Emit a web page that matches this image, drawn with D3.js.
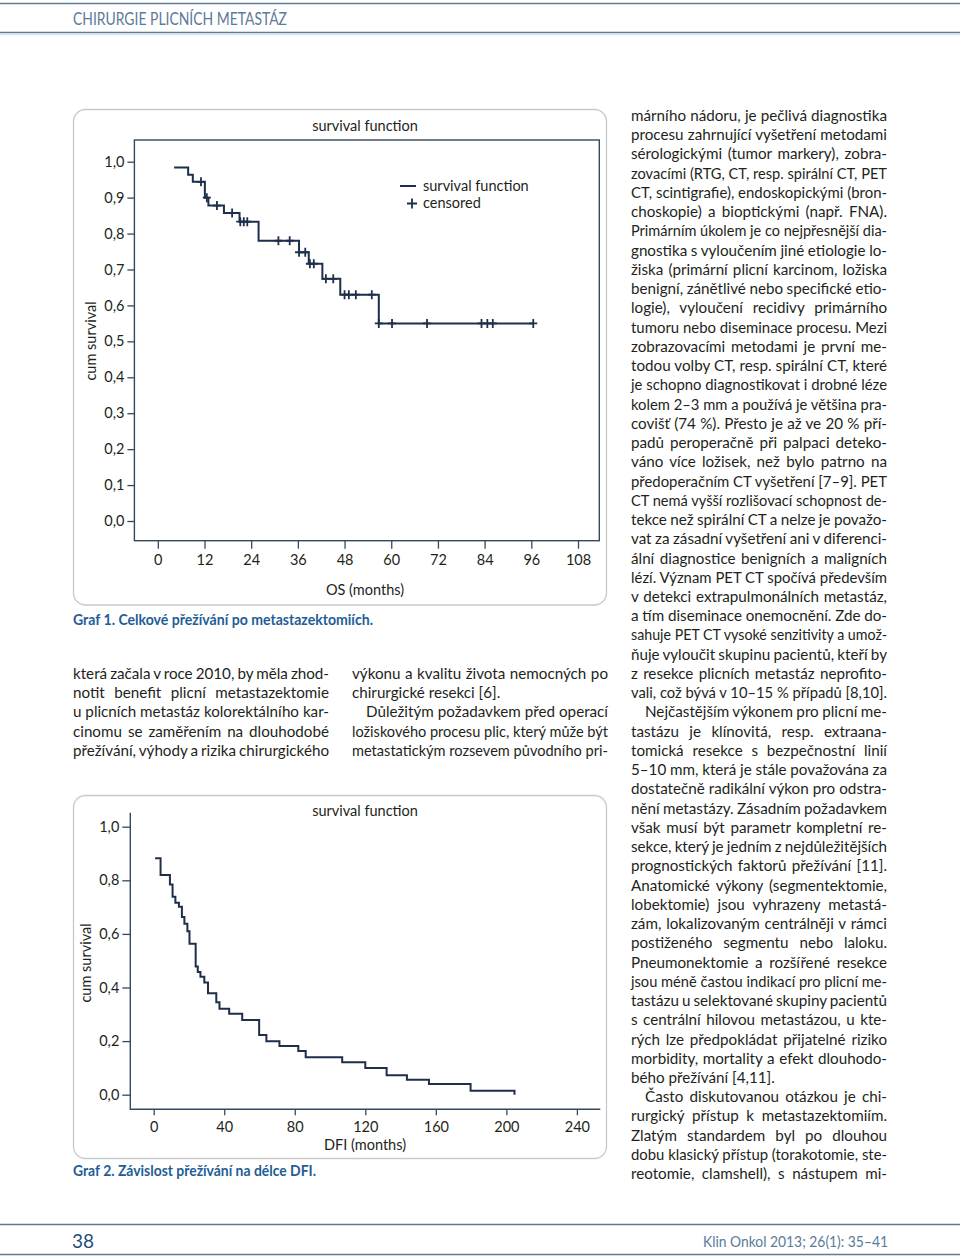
<!DOCTYPE html>
<html><head><meta charset="utf-8">
<script src="https://cdn.jsdelivr.net/npm/d3@7"></script>
<style>
html,body{margin:0;padding:0;background:#fff;}
svg{display:block;}
</style></head>
<body>
<script>
// ---------- DATA ----------
// Graf 1: overall survival (OS, months)
const osStart = [4.2, 0.984];
const osTimes = [7.8, 9.0, 12.1, 13.0, 17.0, 21.0, 25.9, 36.3, 38.8, 42.3, 46.9, 56.8];
const osSurv  = [0.964, 0.944, 0.900, 0.878, 0.857, 0.833, 0.780, 0.748, 0.716, 0.674, 0.630, 0.550];
const osCensored = [11.1, 12.6, 15.2, 19.1, 21.2, 22.1, 23.0, 31.0, 33.9, 36.3, 37.9, 39.1, 40.1,
                    43.2, 45.1, 48.0, 49.1, 50.9, 55.0, 56.8, 60.2, 69.2, 83.2, 84.7, 86.1, 96.5];
const osXTicks = [0, 12, 24, 36, 48, 60, 72, 84, 96, 108];
const osYTicks = [0, 0.1, 0.2, 0.3, 0.4, 0.5, 0.6, 0.7, 0.8, 0.9, 1.0];

// Graf 2: survival by DFI (months)
const dfiStart = [0.8, 0.882];
const dfiTimes = [3.9, 9.2, 10.7, 12.3, 14.3, 16.0, 17.4, 19.1, 20.3, 23.8, 25.0, 26.5, 28.7, 30.8, 35.5,
                  37.3, 42.8, 50.2, 59.8, 63.9, 71.3, 82.0, 86.2, 106.9, 120.0, 132.1, 143.6, 156.1, 179.7, 204.6];
const dfiSurv  = [0.820, 0.784, 0.739, 0.716, 0.701, 0.663, 0.638, 0.610, 0.563, 0.478, 0.458, 0.440, 0.419, 0.379, 0.345,
                  0.321, 0.302, 0.279, 0.223, 0.199, 0.182, 0.163, 0.140, 0.121, 0.100, 0.073, 0.056, 0.040, 0.015, 0.0];
const dfiXTicks = [0, 40, 80, 120, 160, 200, 240];
const dfiYTicks = [0, 0.2, 0.4, 0.6, 0.8, 1.0];

// Page text ("~" = indented first line, "|" = last line of paragraph, not justified)
const headerText = "CHIRURGIE PLICNÍCH METASTÁZ";
const footerPage = "38";
const footerRef = "Klin Onkol 2013; 26(1): 35–41";
const caption1 = "Graf 1. Celkové přežívání po metastazektomiích.";
const caption2 = "Graf 2. Závislost přežívání na délce DFI.";
const leftLines = [
  "která začala v roce 2010, by měla zhod-",
  "notit benefit plicní metastazektomie",
  "u plicních metastáz kolorektálního kar-",
  "cinomu se zaměřením na dlouhodobé",
  "přežívání, výhody a rizika chirurgického"
];
const midLines = [
  "výkonu a kvalitu života nemocných po",
  "chirurgické resekci [6].|",
  "~Důležitým požadavkem před operací",
  "ložiskového procesu plic, který může být",
  "metastatickým rozsevem původního pri-"
];
const rightLines = [
  "márního nádoru, je pečlivá diagnostika",
  "procesu zahrnující vyšetření metodami",
  "sérologickými (tumor markery), zobra-",
  "zovacími (RTG, CT, resp. spirální CT, PET",
  "CT, scintigrafie), endoskopickými (bron-",
  "choskopie) a bioptickými (např. FNA).",
  "Primárním úkolem je co nejpřesnější dia-",
  "gnostika s vyloučením jiné etiologie lo-",
  "žiska (primární plicní karcinom, ložiska",
  "benigní, zánětlivé nebo specifické etio-",
  "logie), vyloučení recidivy primárního",
  "tumoru nebo diseminace procesu. Mezi",
  "zobrazovacími metodami je první me-",
  "todou volby CT, resp. spirální CT, které",
  "je schopno diagnostikovat i drobné léze",
  "kolem 2–3 mm a používá je většina pra-",
  "covišť (74 %). Přesto je až ve 20 % pří-",
  "padů peroperačně při palpaci deteko-",
  "váno více ložisek, než bylo patrno na",
  "předoperačním CT vyšetření [7–9]. PET",
  "CT nemá vyšší rozlišovací schopnost de-",
  "tekce než spirální CT a nelze je považo-",
  "vat za zásadní vyšetření ani v diferenci-",
  "ální diagnostice benigních a maligních",
  "lézí. Význam PET CT spočívá především",
  "v detekci extrapulmonálních metastáz,",
  "a tím diseminace onemocnění. Zde do-",
  "sahuje PET CT vysoké senzitivity a umož-",
  "ňuje vyloučit skupinu pacientů, kteří by",
  "z resekce plicních metastáz neprofito-",
  "vali, což bývá v 10–15 % případů [8,10].",
  "~Nejčastějším výkonem pro plicní me-",
  "tastázu je klínovitá, resp. extraana-",
  "tomická resekce s bezpečnostní linií",
  "5–10 mm, která je stále považována za",
  "dostatečně radikální výkon pro odstra-",
  "nění metastázy. Zásadním požadavkem",
  "však musí být parametr kompletní re-",
  "sekce, který je jedním z nejdůležitějších",
  "prognostických faktorů přežívání [11].",
  "Anatomické výkony (segmentektomie,",
  "lobektomie) jsou vyhrazeny metastá-",
  "zám, lokalizovaným centrálněji v rámci",
  "postiženého segmentu nebo laloku.",
  "Pneumonektomie a rozšířené resekce",
  "jsou méně častou indikací pro plicní me-",
  "tastázu u selektované skupiny pacientů",
  "s centrální hilovou metastázou, u kte-",
  "rých lze předpokládat přijatelné riziko",
  "morbidity, mortality a efekt dlouhodo-",
  "bého přežívání [4,11].|",
  "~Často diskutovanou otázkou je chi-",
  "rurgický přístup k metastazektomiím.",
  "Zlatým standardem byl po dlouhou",
  "dobu klasický přístup (torakotomie, ste-",
  "reotomie, clamshell), s nástupem mi-"
];

// ---------- STYLE ----------
const W = 960, H = 1257;
const FONT = "Lato, 'Open Sans', 'Noto Sans', sans-serif";
const INK = "#231f20";
const CURVE = "#1d2f4b";
const FRAME = "#34495f";
const BLUE = "#1f5d96";
const STEEL = "#5b7b98";

const svg = d3.select("body").append("svg").attr("width", W).attr("height", H)
  .style("font-family", FONT);

// header & footer
svg.append("line").attr("x1",0).attr("x2",W).attr("y1",3.5).attr("y2",3.5).attr("stroke",STEEL).attr("stroke-width",1.6);
svg.append("line").attr("x1",0).attr("x2",W).attr("y1",32.5).attr("y2",32.5).attr("stroke",STEEL).attr("stroke-width",1.6);
svg.append("line").attr("x1",0).attr("x2",W).attr("y1",34.5).attr("y2",34.5).attr("stroke","#d6e3ee").attr("stroke-width",1.5);
svg.append("text").attr("x",73).attr("y",25).attr("fill",STEEL).style("font-size","16.5px").style("font-weight",400)
  .attr("textLength",214).attr("lengthAdjust","spacingAndGlyphs").text(headerText);
svg.append("line").attr("x1",0).attr("x2",W).attr("y1",1224.5).attr("y2",1224.5).attr("stroke",STEEL).attr("stroke-width",1.6);
svg.append("line").attr("x1",0).attr("x2",W).attr("y1",1254.5).attr("y2",1254.5).attr("stroke",STEEL).attr("stroke-width",1.6);
svg.append("text").attr("x",72).attr("y",1248).attr("fill","#1f4f7d").style("font-size","19px").text(footerPage);
svg.append("text").attr("x",888).attr("y",1246.5).attr("text-anchor","end").attr("fill",STEEL).style("font-size","15.5px")
  .attr("textLength",185).attr("lengthAdjust","spacingAndGlyphs").text(footerRef);

// justified text blocks
function textBlock(lines, x, y0, lh, width) {
  const g = svg.append("g").attr("fill", INK).style("font-size","15.2px");
  lines.forEach((raw, i) => {
    const indent = raw.startsWith("~") ? 14 : 0;
    const last = raw.endsWith("|");
    const t = raw.replace(/^~/, "").replace(/\|$/, "");
    const el = g.append("text").attr("x", x + indent).attr("y", y0 + i * lh).text(t);
    const w = el.node().getComputedTextLength();
    const avail = width - indent;
    const n = (t.match(/ /g) || []).length;
    if (!last && n > 0) {
      const ws = (avail - w) / n;
      if (ws >= -1.0) el.style("word-spacing", ws + "px");
      else el.attr("textLength", avail).attr("lengthAdjust", "spacingAndGlyphs");
    } else if (w > avail) {
      el.attr("textLength", avail).attr("lengthAdjust", "spacingAndGlyphs");
    }
  });
}
textBlock(leftLines, 73, 679, 19.2, 256);
textBlock(midLines, 352, 679, 19.2, 256);
textBlock(rightLines, 631, 121, 19.24, 256);

// ---------- Chart helpers ----------
function stepPath(start, times, surv) {
  return [start].concat(times.map((t, i) => [t, surv[i]]));
}
function survAt(t, start, times, surv) {
  let s = start[1];
  times.forEach((tt, i) => { if (tt <= t) s = surv[i]; });
  return s;
}
function fmt(v) { return d3.format(".1f")(v).replace(".", ","); }

// ---------- GRAF 1 ----------
{
  svg.append("rect").attr("x",73.5).attr("y",109.5).attr("width",533).attr("height",495.5).attr("rx",12)
    .attr("fill","none").attr("stroke","#c9c9c9").attr("stroke-width",1.3);
  const x = d3.scaleLinear().domain([0,108]).range([157.8,578]);
  const y = d3.scaleLinear().domain([0,1]).range([521,161.7]);
  const g = svg.append("g");
  g.append("rect").attr("x",134.4).attr("y",140).attr("width",599.3-134.4).attr("height",540.7-140)
    .attr("fill","none").attr("stroke",FRAME).attr("stroke-width",1.4);
  const ya = d3.axisLeft(y).tickValues(osYTicks).tickFormat(fmt).tickSize(7).tickPadding(3);
  const yg = g.append("g").attr("transform","translate(134.4,0)").call(ya);
  const xa = d3.axisBottom(x).tickValues(osXTicks).tickSize(8).tickPadding(6);
  const xg = g.append("g").attr("transform","translate(0,540.7)").call(xa);
  [yg, xg].forEach(a => {
    a.select(".domain").remove();
    a.selectAll(".tick line").attr("stroke",FRAME).attr("stroke-width",1.3);
    a.selectAll(".tick text").attr("fill",INK).style("font-size","14.5px").style("font-family",FONT);
  });
  const line = d3.line().x(d => x(d[0])).y(d => y(d[1])).curve(d3.curveStepAfter);
  const pts = stepPath(osStart, osTimes, osSurv);
  pts.push([osCensored[osCensored.length-1], osSurv[osSurv.length-1]]);
  g.append("path").attr("d", line(pts)).attr("fill","none").attr("stroke",CURVE).attr("stroke-width",2);
  g.selectAll(".cens").data(osCensored).join("path").attr("class","cens")
    .attr("d", t => {
      const cx = x(t), cy = y(survAt(t, osStart, osTimes, osSurv));
      return `M${cx},${cy-4.5}V${cy+4.5}M${cx-4},${cy}H${cx+4}`;
    }).attr("stroke",CURVE).attr("stroke-width",1.8).attr("fill","none");
  g.append("text").attr("x",365).attr("y",131).attr("text-anchor","middle").attr("fill",INK).style("font-size","14.5px").text("survival function");
  g.append("text").attr("x",365).attr("y",595).attr("text-anchor","middle").attr("fill",INK).style("font-size","14.5px").text("OS (months)");
  g.append("text").attr("transform","translate(96,341) rotate(-90)").attr("text-anchor","middle").attr("fill",INK).style("font-size","14.5px").text("cum survival");
  g.append("line").attr("x1",400).attr("x2",416).attr("y1",186).attr("y2",186).attr("stroke",CURVE).attr("stroke-width",2);
  g.append("text").attr("x",423).attr("y",191).attr("fill",INK).style("font-size","14.5px").text("survival function");
  g.append("path").attr("d","M412,198.5V208.5M407,203.5H417").attr("stroke",CURVE).attr("stroke-width",1.8);
  g.append("text").attr("x",423).attr("y",208).attr("fill",INK).style("font-size","14.5px").text("censored");
  svg.append("text").attr("x",73).attr("y",624.5).attr("fill",BLUE).style("font-size","15px").style("font-weight",700)
    .attr("textLength",300).attr("lengthAdjust","spacingAndGlyphs").text(caption1);
}

// ---------- GRAF 2 ----------
{
  svg.append("rect").attr("x",73.5).attr("y",795.5).attr("width",533).attr("height",363).attr("rx",12)
    .attr("fill","none").attr("stroke","#c9c9c9").attr("stroke-width",1.3);
  const x = d3.scaleLinear().domain([0,240]).range([153.7,576.9]);
  const y = d3.scaleLinear().domain([0,1]).range([1094.7,826.7]);
  const g = svg.append("g");
  g.append("path").attr("d","M130.3,812.7V1109.3H600.3").attr("fill","none").attr("stroke",FRAME).attr("stroke-width",1.4);
  const ya = d3.axisLeft(y).tickValues(dfiYTicks).tickFormat(fmt).tickSize(8).tickPadding(3);
  const yg = g.append("g").attr("transform","translate(130.3,0)").call(ya);
  const xa = d3.axisBottom(x).tickValues(dfiXTicks).tickSize(6).tickPadding(6);
  const xg = g.append("g").attr("transform","translate(0,1109.3)").call(xa);
  [yg, xg].forEach(a => {
    a.select(".domain").remove();
    a.selectAll(".tick line").attr("stroke",FRAME).attr("stroke-width",1.3);
    a.selectAll(".tick text").attr("fill",INK).style("font-size","14.5px").style("font-family",FONT);
  });
  const line = d3.line().x(d => x(d[0])).y(d => y(d[1])).curve(d3.curveStepAfter);
  g.append("path").attr("d", line(stepPath(dfiStart, dfiTimes, dfiSurv))).attr("fill","none").attr("stroke",CURVE).attr("stroke-width",2);
  g.append("text").attr("x",365).attr("y",816).attr("text-anchor","middle").attr("fill",INK).style("font-size","14.5px").text("survival function");
  g.append("text").attr("x",365).attr("y",1150).attr("text-anchor","middle").attr("fill",INK).style("font-size","14.5px").text("DFI (months)");
  g.append("text").attr("transform","translate(91,963) rotate(-90)").attr("text-anchor","middle").attr("fill",INK).style("font-size","14.5px").text("cum survival");
  svg.append("text").attr("x",73).attr("y",1176).attr("fill",BLUE).style("font-size","15px").style("font-weight",700)
    .attr("textLength",243).attr("lengthAdjust","spacingAndGlyphs").text(caption2);
}
</script>
</body></html>
